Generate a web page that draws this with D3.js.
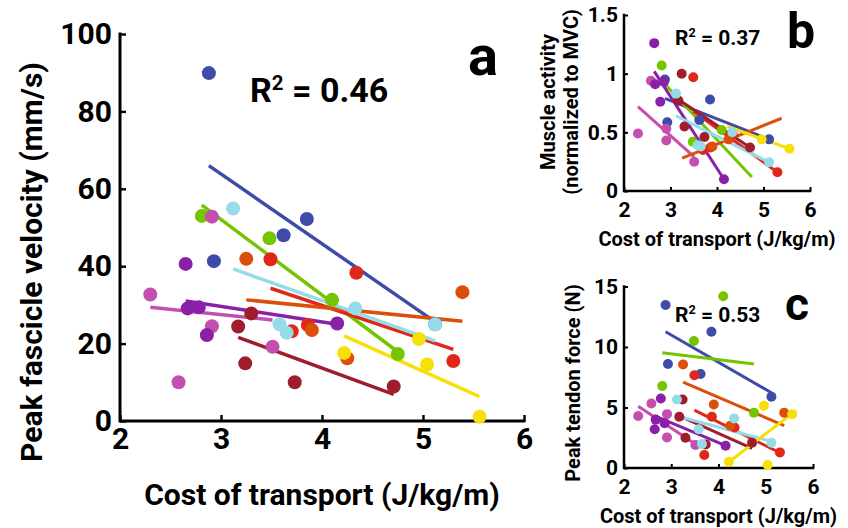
<!DOCTYPE html>
<html>
<head>
<meta charset="utf-8">
<script src="https://cdn.jsdelivr.net/npm/d3@7"></script>
<style>
  html, body { margin: 0; padding: 0; background: #fff; }
  svg { display: block; font-family: Roboto, "Liberation Sans", Arial, sans-serif; font-weight: bold; }
</style>
</head>
<body>
<svg id="chart" width="848" height="528"></svg>
<script>
// ---- data (one entry per subject) ----
const subjects = ["S1", "S2", "S3", "S4", "S5", "S6", "S7", "S8", "S9"];
const colors = ["#3F4BA8", "#74C400", "#C44FAE", "#8A1FA8", "#E0281A", "#DC4E0A", "#A01E2B", "#96DCE8", "#F5E00A"];

// cost of transport (J/kg/m) for each trial
const cot = [
  [2.88, 2.93, 3.62, 3.85, 5.12],
  [2.81, 3.48, 4.10, 4.75],
  [2.30, 2.58, 2.91, 2.91, 3.51],
  [2.65, 2.67, 2.78, 2.86, 4.15],
  [3.49, 3.70, 3.86, 4.34, 5.30],
  [3.25, 3.90, 4.25, 5.39],
  [3.17, 3.24, 3.30, 3.73, 4.71],
  [3.12, 3.58, 3.65, 4.33, 5.12],
  [4.22, 4.96, 5.04, 5.56]
];
// (a) peak fascicle velocity (mm/s)
const velocity = [
  [89.9, 41.3, 48.0, 52.2, 25.0],
  [53.0, 47.2, 31.3, 17.3],
  [32.7, 10.0, 52.8, 24.5, 19.2],
  [40.6, 29.1, 29.4, 22.2, 25.2],
  [41.8, 23.2, 24.8, 38.3, 15.5],
  [41.9, 23.5, 16.2, 33.3],
  [24.4, 14.9, 27.8, 10.0, 8.9],
  [54.9, 25.0, 22.8, 29.1, 25.0],
  [17.6, 21.2, 14.6, 1.1]
];
// (b) muscle activity (normalized to MVC)
const activity = [
  [0.95, 0.585, 0.605, 0.78, 0.44],
  [1.07, 0.42, 0.52, null],
  [0.49, 0.94, 0.53, 0.43, 0.25],
  [1.26, 0.91, 0.76, 0.93, 0.10],
  [0.97, 0.35, 0.37, 0.48, 0.16],
  [null, 0.38, 0.44, null],
  [0.77, 1.00, 0.55, 0.46, 0.37],
  [0.83, 0.39, 0.38, 0.50, 0.245],
  [null, 0.44, null, 0.36]
];
// (c) peak tendon force (N)
const force = [
  [13.47, 8.6, 7.77, 11.26, 5.89],
  [6.78, 10.5, 14.2, 4.57],
  [4.3, 5.33, 4.45, 2.53, 1.9],
  [3.2, 4.0, 5.75, 3.7, 1.84],
  [7.67, 1.07, 4.23, 3.35, 1.29],
  [8.55, 5.25, 3.5, 4.56],
  [4.23, 5.66, 2.5, 1.95, 2.09],
  [5.66, 3.2, 1.98, 4.1, 2.09],
  [0.52, 5.14, 0.25, 4.45]
];
// per-subject fitted lines: value at min cot, value at max cot
const velocityFit = [[66.0, 25.6], [55.8, 17.9], [29.4, 26.1], [31.0, 25.0], [34.3, 18.5], [31.3, 25.8], [21.6, 6.9], [39.3, 20.7], [22.0, 6.3]];
const activityFit = [[0.79, 0.44], [0.94, 0.12], [0.72, 0.29], [1.02, 0.10], [0.68, 0.16], [0.28, 0.62], [0.78, 0.37], [0.64, 0.245], [0.55, 0.36]];
const forceFit = [[11.26, 6.22], [9.53, 8.6], [5.1, 1.98], [4.3, 1.84], [4.78, 1.26], [7.1, 3.5], [4.3, 1.62], [4.3, 2.2], [0.5, 4.5]];

const xTicks = [2, 3, 4, 5, 6];
const velTicks = [0, 20, 40, 60, 80, 100];
const actTicks = [0, 0.5, 1, 1.5];
const forceTicks = [0, 5, 10, 15];
const rSquared = ["0.46", "0.37", "0.53"];
const panelLetters = ["a", "b", "c"];

// ---- drawing ----
const svg = d3.select("#chart");

function panel(cfg) {
  const x = d3.scaleLinear().domain([2, 6]).range(cfg.xr);
  const y = d3.scaleLinear().domain(cfg.yd).range(cfg.yr);
  const g = svg.append("g");

  // axes
  const xa = g.append("g").attr("transform", `translate(0,${cfg.yr[0]})`)
    .call(d3.axisBottom(x).tickValues(xTicks).tickSize(-cfg.tick).tickPadding(cfg.xPad).tickFormat(d3.format("d")));
  const ya = g.append("g").attr("transform", `translate(${cfg.xr[0]},0)`)
    .call(d3.axisLeft(y).tickValues(cfg.yTicks).tickSize(-cfg.tick).tickPadding(cfg.yPad).tickFormat(d => String(d)));
  [xa, ya].forEach(a => {
    a.selectAll(".tick line").attr("stroke", "#000").attr("stroke-width", cfg.aw * 0.8);
    a.selectAll(".tick text").attr("fill", "#000").attr("font-size", cfg.tf).attr("font-weight", "bold")
      .attr("font-family", "Roboto, sans-serif");
  });
  xa.select(".domain").remove();
  ya.select(".domain").remove();
  g.append("path").attr("fill", "none").attr("stroke", "#000").attr("stroke-width", cfg.aw)
    .attr("stroke-linecap", "square")
    .attr("d", `M${cfg.xr[0]},${cfg.yr[1]}V${cfg.yr[0]}H${cfg.xr[1]}`);
  xa.selectAll(".tick text").attr("dy", "0.71em");

  // fitted lines
  subjects.forEach((s, i) => {
    const xs = d3.extent(cot[i]);
    g.append("line")
      .attr("x1", x(xs[0])).attr("y1", y(cfg.fit[i][0]))
      .attr("x2", x(xs[1])).attr("y2", y(cfg.fit[i][1]))
      .attr("stroke", colors[i]).attr("stroke-width", cfg.lw);
  });
  // points
  subjects.forEach((s, i) => {
    const pts = cot[i].map((c, j) => [c, cfg.vals[i][j]]).filter(p => p[1] != null);
    g.selectAll(null).data(pts).enter().append("circle")
      .attr("cx", p => x(p[0])).attr("cy", p => y(p[1])).attr("r", cfg.r)
      .attr("fill", colors[i]);
  });

  // R^2
  const rt = g.append("text").attr("x", cfg.rPos[0]).attr("y", cfg.rPos[1]).attr("font-size", cfg.rf).attr("fill", "#000");
  rt.append("tspan").text("R");
  rt.append("tspan").attr("font-size", cfg.rf * 0.6).attr("dy", -cfg.rf * 0.36).text("2");
  rt.append("tspan").attr("dy", cfg.rf * 0.36).text(" = " + cfg.r2);
  g.append("text").attr("x", cfg.lPos[0]).attr("y", cfg.lPos[1]).attr("font-size", cfg.lf).attr("fill", "#000").text(cfg.letter);

  // axis titles
  g.append("text").attr("x", (cfg.xr[0] + cfg.xr[1]) / 2 + cfg.xtOff).attr("y", cfg.xtY).attr("text-anchor", "middle")
    .attr("font-size", cfg.af).attr("fill", "#000").text("Cost of transport (J/kg/m)");
  cfg.yTitle.forEach((t, k) => {
    g.append("text").attr("transform", `translate(${cfg.ytX[k]},${cfg.ytY}) rotate(-90)`).attr("text-anchor", "middle")
      .attr("font-size", cfg.af).attr("fill", "#000").text(t);
  });
}

panel({ xr: [120, 524], yr: [421, 34], yd: [0, 100], yTicks: velTicks, vals: velocity, fit: velocityFit,
  tick: 6, aw: 3, tf: 30, xPad: 7, yPad: 8, lw: 3.5, r: 7,
  rPos: [250, 102], rf: 34, r2: rSquared[0], lPos: [468, 75], lf: 56, letter: panelLetters[0],
  af: 30, xtOff: 0, xtY: 505, yTitle: ["Peak fascicle velocity (mm/s)"], ytX: [42], ytY: 262 });

panel({ xr: [624, 810], yr: [191, 15], yd: [0, 1.5], yTicks: actTicks, vals: activity, fit: activityFit,
  tick: 4, aw: 2.5, tf: 21, xPad: 11, yPad: 6, lw: 3, r: 5,
  rPos: [675, 45], rf: 21, r2: rSquared[1], lPos: [787, 48], lf: 50, letter: panelLetters[1],
  af: 20, xtOff: 0, xtY: 246, yTitle: ["Muscle activity", "(normalized to MVC)"], ytX: [555, 578], ytY: 102 });

panel({ xr: [624, 813], yr: [468, 286.5], yd: [0, 15], yTicks: forceTicks, vals: force, fit: forceFit,
  tick: 4, aw: 2.5, tf: 21, xPad: 11, yPad: 6, lw: 3, r: 5,
  rPos: [675, 322], rf: 21, r2: rSquared[2], lPos: [785, 320], lf: 46, letter: panelLetters[2],
  af: 20, xtOff: 0, xtY: 523, yTitle: ["Peak tendon force (N)"], ytX: [580], ytY: 383 });
</script>
</body>
</html>
